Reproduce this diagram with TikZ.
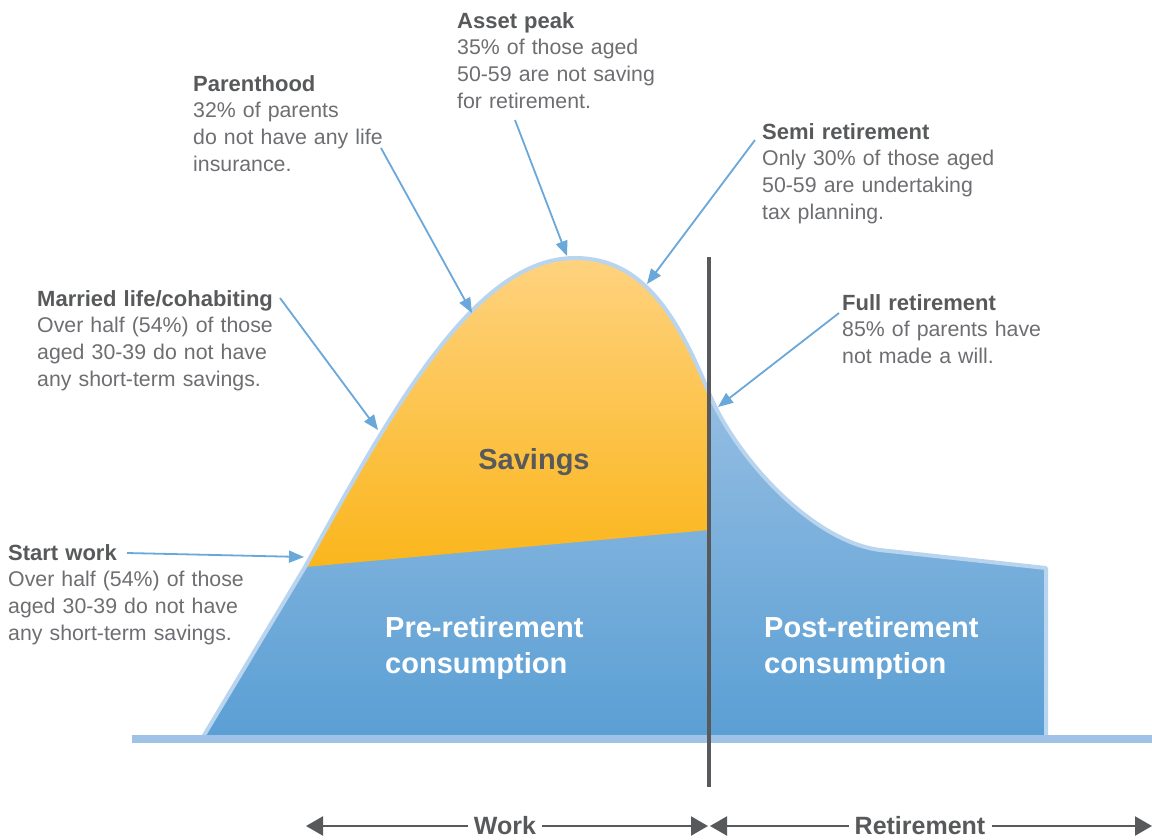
\documentclass[tikz,border=0pt]{standalone}
\usepackage{fontspec}
\setmainfont{Liberation Sans}
\usetikzlibrary{arrows.meta}
\definecolor{txtgray}{HTML}{6D6E71}
\definecolor{ttlgray}{HTML}{58595B}
\definecolor{arrowblue}{HTML}{6AA7DA}
\definecolor{outlineblue}{HTML}{B9D4EF}
\definecolor{axisblue}{HTML}{9FC2E6}
\definecolor{blueTop}{HTML}{94BDE2}
\definecolor{blueBot}{HTML}{5A9FD4}
\definecolor{orTop}{HTML}{FED27F}
\definecolor{orBot}{HTML}{FBB61C}
\definecolor{darkline}{HTML}{58595B}
\newcommand\annottitle[1]{{\color{ttlgray}\fontsize{22}{26.7}\selectfont\bfseries #1}}
\begin{document}
\begin{tikzpicture}[x=1pt,y=-1pt,
  annot/.style={anchor=base west, inner sep=0pt, text width=330pt, align=left,
    text=txtgray, font=\fontsize{21.3}{26.7}\selectfont},
  bigwhite/.style={anchor=base west, inner sep=0pt, text width=330pt, align=left,
    text=white, font=\fontsize{29}{36}\selectfont\bfseries},
  callout/.style={draw=arrowblue, line width=1.8pt, -{Triangle[length=15pt,width=12pt]}},
  spanarrow/.style={draw=darkline, line width=2.2pt, -{Triangle[length=17pt,width=19pt]}},
  spanlabel/.style={fill=white, inner xsep=6pt, inner ysep=2pt, text=ttlgray,
    font=\fontsize{25}{30}\selectfont\bfseries}
]
\useasboundingbox (0,0) rectangle (1152,839);

% key points of the curve
\coordinate (A) at (203,737);
\coordinate (B) at (305,567);
\coordinate (P) at (575,258);
\coordinate (R) at (709,393);
\coordinate (Q) at (880,550);
\coordinate (S) at (1046,568);
\coordinate (T) at (1046,737);
\coordinate (Rb) at (709,530);

% blue consumption area
\begin{scope}
  \clip (A) -- (B) .. controls (393,408) and (475,258) .. (P)
        .. controls (640,258) and (675,310) .. (R)
        .. controls (734,454) and (810,541) .. (Q) -- (S) -- (T) -- cycle;
  \fill[blueTop] (190,250) rectangle (1060,740);
  \shade[top color=blueTop, bottom color=blueBot] (190,393) rectangle (1060,737);
\end{scope}

% orange savings area
\begin{scope}
  \clip (B) .. controls (393,408) and (475,258) .. (P)
        .. controls (640,258) and (675,310) .. (R) -- (Rb) -- cycle;
  \shade[top color=orTop, bottom color=orBot] (295,258) rectangle (712,567);
\end{scope}

% outline
\draw[outlineblue, line width=4pt, line join=round]
  (A) -- (B) .. controls (393,408) and (475,258) .. (P)
  .. controls (640,258) and (675,310) .. (R)
  .. controls (734,454) and (810,541) .. (Q) -- (S) -- (T);

% axis bar
\fill[axisblue] (132,735) rectangle (1152,743);

% retirement divider
\coordinate (vtop) at (709,257);
\coordinate (vbot) at (709,787);
\draw[darkline, line width=4pt] (vtop) -- (vbot);

% big labels
\node[text=ttlgray, font=\fontsize{29}{36}\selectfont\bfseries] (savings) at (534,462) {Savings};
\node[bigwhite] (pre) at (385,637) {Pre-retirement\\consumption};
\node[bigwhite] (post) at (764,637) {Post-retirement\\consumption};

% annotations
\node[annot] (startwork) at (8,560) {\annottitle{Start work}\\Over half (54\%) of those\\aged 30-39 do not have\\any short-term savings.};
\node[annot] (married) at (37,306) {\annottitle{Married life/cohabiting}\\Over half (54\%) of those\\aged 30-39 do not have\\any short-term savings.};
\node[annot] (parent) at (193,91) {\annottitle{Parenthood}\\32\% of parents\\do not have any life\\insurance.};
\node[annot] (asset) at (457,28) {\annottitle{Asset peak}\\35\% of those aged\\50-59 are not saving\\for retirement.};
\node[annot] (semi) at (762,139) {\annottitle{Semi retirement}\\Only 30\% of those aged\\50-59 are undertaking\\tax planning.};
\node[annot] (full) at (842,310) {\annottitle{Full retirement}\\85\% of parents have\\not made a will.};

% callout arrows
\coordinate (sw0) at (127,553); \coordinate (sw1) at (304,557);
\coordinate (ml0) at (280,298); \coordinate (ml1) at (378,430);
\coordinate (ph0) at (381,148); \coordinate (ph1) at (472,313);
\coordinate (ap0) at (515,120); \coordinate (ap1) at (567,256);
\coordinate (sr0) at (755,140); \coordinate (sr1) at (647,284);
\coordinate (fr0) at (839,313); \coordinate (fr1) at (718,407);
\draw[callout] (sw0) -- (sw1);
\draw[callout] (ml0) -- (ml1);
\draw[callout] (ph0) -- (ph1);
\draw[callout] (ap0) -- (ap1);
\draw[callout] (sr0) -- (sr1);
\draw[callout] (fr0) -- (fr1);

% span arrows
\coordinate (workL) at (306,826);
\coordinate (workR) at (708,826);
\coordinate (retL) at (710,826);
\coordinate (retR) at (1152,826);
\node[spanlabel] (work) at (505,826) {Work};
\node[spanlabel] (retire) at (920,826) {Retirement};
\draw[spanarrow] (work.west) -- (workL);
\draw[spanarrow] (work.east) -- (workR);
\draw[spanarrow] (retire.west) -- (retL);
\draw[spanarrow] (retire.east) -- (retR);
\end{tikzpicture}
\end{document}
